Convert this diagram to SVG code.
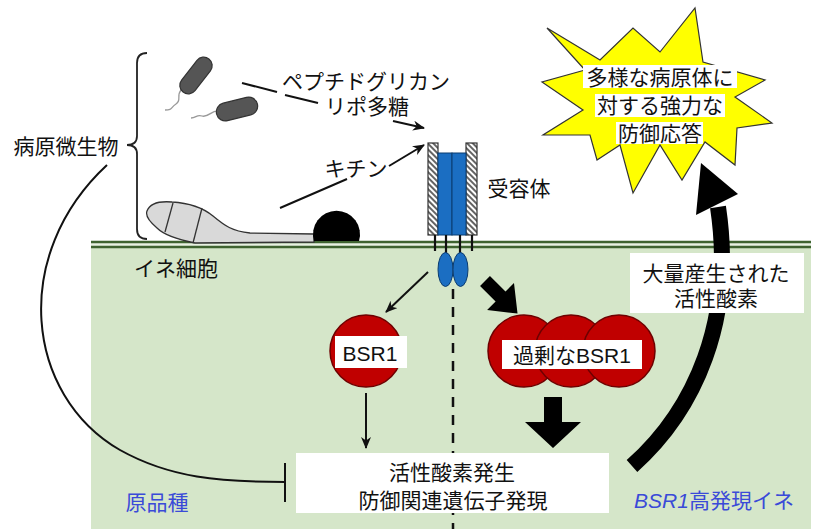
<svg xmlns="http://www.w3.org/2000/svg" width="817" height="529" viewBox="0 0 817 529">
  <defs>
    <style>
      text { font-family: "Liberation Sans", "Noto Sans CJK JP", sans-serif; font-size: 21px; fill: #111; }
      .c { text-anchor: middle; dominant-baseline: central; }
      .blue { fill: #3a4ad8; }
      .thin { fill: none; stroke: #111; stroke-width: 2; }
      .box { fill: #fff; }
      .red { fill: #c00000; stroke: #6e0000; stroke-width: 1.5; }
      .mem { stroke: #3f6330; stroke-width: 2.5; }
    </style>
    <marker id="arrow" viewBox="0 0 12 10" refX="11" refY="5" markerWidth="12" markerHeight="10" markerUnits="userSpaceOnUse" orient="auto">
      <path d="M0,0 L12,5 L0,10 L3.5,5 z" fill="#111"/>
    </marker>
    <pattern id="hatch" patternUnits="userSpaceOnUse" width="4" height="4" patternTransform="rotate(-45)">
      <rect width="4" height="4" fill="#fff"/>
      <line x1="1" y1="0" x2="1" y2="4" stroke="#222" stroke-width="1.4"/>
    </pattern>
  </defs>

  <!-- rice cell interior and membrane -->
  <g id="cell">
    <rect x="91" y="242" width="720" height="287" fill="#d5e6c9"/>
    <rect x="91" y="242" width="720" height="5" fill="#e9f1e2"/>
    <line class="mem" x1="91" y1="242" x2="811" y2="242"/>
    <line class="mem" x1="91" y1="247" x2="811" y2="247"/>
    <text x="176" y="268" class="c">イネ細胞</text>
  </g>

  <!-- pathogens -->
  <g id="pathogens">
    <path d="M147,53 Q137,53 137,63 L137,136 Q137,145 127,145 Q137,145 137,154 L137,229 Q137,239 147,239" fill="none" stroke="#222" stroke-width="1.8"/>
    <text x="66" y="146" class="c">病原微生物</text>
    <!-- bacteria -->
    <g stroke="#999" stroke-width="1.3" fill="none">
      <path d="M181,90 C176,96 182,100 176,104 C170,108 173,110 165,110"/>
      <path d="M218,111 C212,110 208,118 202,116 C197,114 196,118 191,118"/>
    </g>
    <rect x="175" y="67" width="42" height="17" rx="8.5" fill="#555" stroke="#333" stroke-width="1.2" transform="rotate(-52 196 75.5)"/>
    <rect x="216" y="100" width="42" height="18" rx="9" fill="#555" stroke="#333" stroke-width="1.2" transform="rotate(-14 237 109)"/>
    <!-- fungus -->
    <path d="M147,211 C150,203 160,201 172,202 C190,203 202,207 213,216 C225,226 232,231 250,233 L314,234 L314,242 L195,243 C180,240 165,236 157,228 C150,222 145,216 147,211 z" fill="#d9d9d9" stroke="#333" stroke-width="1.3"/>
    <line x1="173" y1="203" x2="165" y2="232" stroke="#333" stroke-width="1.3"/>
    <line x1="202" y1="208" x2="193" y2="243" stroke="#333" stroke-width="1.3"/>
    <path d="M314,241 A23.5,23.5 0 1 1 359,241 z" fill="#000"/>
  </g>

  <!-- receptor -->
  <g id="receptor">
    <rect x="428" y="143" width="10" height="92" fill="url(#hatch)" stroke="#333" stroke-width="1.2"/>
    <rect x="466" y="143" width="11" height="92" fill="url(#hatch)" stroke="#333" stroke-width="1.2"/>
    <rect x="438" y="153" width="14" height="82" fill="#1b6ec2" stroke="#0b3c70" stroke-width="1"/>
    <rect x="452" y="153" width="14" height="82" fill="#1b6ec2" stroke="#0b3c70" stroke-width="1"/>
    <g stroke="#111" stroke-width="2.2">
      <line x1="435" y1="235" x2="435" y2="251"/>
      <line x1="446" y1="235" x2="446" y2="253"/>
      <line x1="460" y1="235" x2="460" y2="253"/>
      <line x1="472" y1="235" x2="472" y2="251"/>
    </g>
    <ellipse cx="445.5" cy="269.5" rx="7.5" ry="17" fill="#1b6ec2" stroke="#0b3c70" stroke-width="1"/>
    <ellipse cx="460.5" cy="269.5" rx="7.5" ry="17" fill="#1b6ec2" stroke="#0b3c70" stroke-width="1"/>
    <text x="519" y="188" class="c">受容体</text>
  </g>

  <!-- ligand labels -->
  <g id="ligands">
    <text x="366" y="81" class="c">ペプチドグリカン</text>
    <text x="367" y="106" class="c">リポ多糖</text>
    <text x="356" y="168" class="c">キチン</text>
  </g>

  <!-- connectors -->
  <g id="connectors">
    <line class="thin" x1="242" y1="83" x2="277" y2="92"/>
    <line class="thin" x1="285" y1="95" x2="318" y2="103"/>
    <line class="thin" x1="393" y1="121" x2="424" y2="128" marker-end="url(#arrow)"/>
    <line class="thin" x1="280" y1="208" x2="347" y2="179"/>
    <line class="thin" x1="389" y1="166" x2="424" y2="145" marker-end="url(#arrow)"/>
    <line class="thin" x1="428" y1="272" x2="386" y2="312" marker-end="url(#arrow)"/>
    <line class="thin" x1="366" y1="393" x2="366" y2="448" marker-end="url(#arrow)"/>
    <line x1="453" y1="289" x2="453" y2="529" stroke="#111" stroke-width="2.5" stroke-dasharray="10,8"/>
    <!-- inhibition from pathogens -->
    <path class="thin" d="M107,165 C10,255 25,395 120,450 C170,478 220,482 285,482"/>
    <line class="thin" x1="285" y1="463" x2="285" y2="502"/>
    <!-- block arrows -->
    <path d="M0,-7 L22,-7 L22,-19 L46,0 L22,19 L22,7 L0,7 z" fill="#000" transform="translate(485 281) rotate(45)"/>
    <path d="M544,397 L562,397 L562,422 L581,422 L553,448 L525,422 L544,422 z" fill="#000"/>
    <path d="M632,466 C695,410 735,320 718,207" fill="none" stroke="#000" stroke-width="16"/>
    <path d="M701,163 L738,194 L696,215 z" fill="#000"/>
  </g>

  <!-- burst -->
  <g id="burst">
    <polygon points="547,28 600,60 633,28 660,52 695,8 703,62 765,80 735,97 772,123 737,128 735,165 705,142 682,180 660,145 633,193 620,145 597,160 590,135 543,135 583,110 542,82 585,70" fill="#ffff00" stroke="#333" stroke-width="1.2" stroke-linejoin="miter"/>
    <rect class="box" x="583" y="65" width="154" height="23"/>
    <rect class="box" x="595" y="94" width="130" height="23"/>
    <rect class="box" x="616" y="122" width="87" height="22"/>
    <text x="660" y="77" class="c">多様な病原体に</text>
    <text x="660" y="105" class="c">対する強力な</text>
    <text x="660" y="133" class="c">防御応答</text>
  </g>

  <!-- ROS label -->
  <g id="ros">
    <rect class="box" x="630" y="253" width="174" height="60"/>
    <text x="716" y="273" class="c">大量産生された</text>
    <text x="716" y="298" class="c">活性酸素</text>
  </g>

  <!-- BSR1 in wild type -->
  <g id="bsr1">
    <circle class="red" cx="366" cy="351" r="36"/>
    <rect class="box" x="335" y="336" width="72" height="32"/>
    <text x="370" y="353" class="c">BSR1</text>
  </g>

  <!-- excess BSR1 -->
  <g id="bsr1-excess">
    <circle class="red" cx="524" cy="351" r="36"/>
    <circle class="red" cx="571" cy="351" r="36"/>
    <circle class="red" cx="619" cy="351" r="36"/>
    <rect class="box" x="502" y="340" width="140" height="29"/>
    <text x="572" y="355" class="c">過剰なBSR1</text>
  </g>

  <!-- response -->
  <g id="response">
    <rect class="box" x="296" y="453" width="313" height="60"/>
    <text x="452" y="472" class="c">活性酸素発生</text>
    <text x="453" y="500" class="c">防御関連遺伝子発現</text>
  </g>

  <!-- line labels -->
  <g id="labels">
    <text x="157" y="502" class="c blue">原品種</text>
    <text x="714" y="500" class="c blue"><tspan font-style="italic">BSR1</tspan>高発現イネ</text>
  </g>
</svg>
